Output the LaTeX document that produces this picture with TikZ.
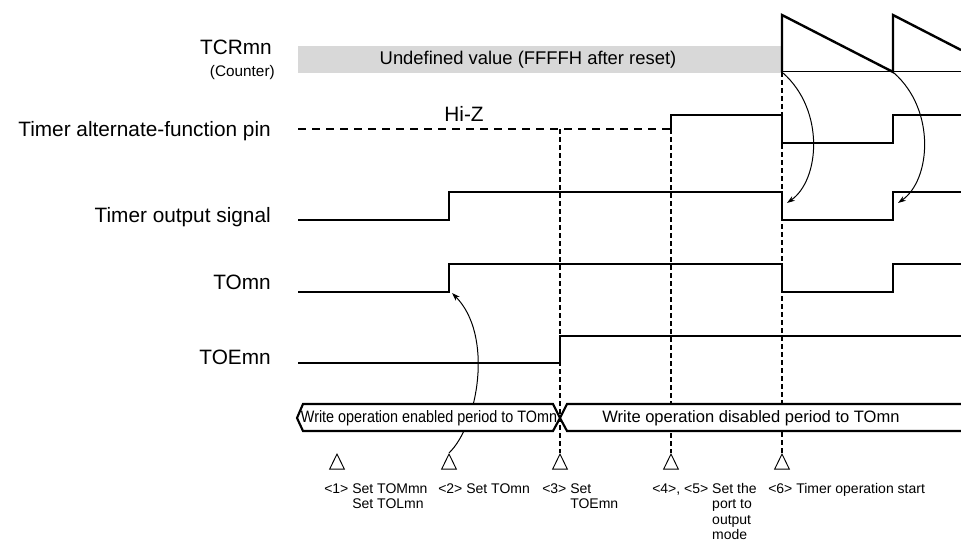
\documentclass[tikz,border=0pt]{standalone}
\usepackage{fontspec}
\setmainfont{Liberation Sans}
\usetikzlibrary{shapes.geometric,arrows.meta}
\definecolor{bandgray}{RGB}{216,216,216}

\begin{document}
\begin{tikzpicture}[
    x=0.75pt, y=-0.75pt,
    siglabel/.style={anchor=base east, inner sep=0pt, font=\fontsize{15.6}{18}\selectfont},
    wave/.style={line width=1.8pt, line join=miter},
    hiz/.style={line width=1.8pt, dash pattern=on 6pt off 4.5pt},
    guide/.style={line width=0.8pt, dash pattern=on 3.5pt off 2.5pt},
    busline/.style={line width=1.6pt, line join=miter},
    marker/.style={draw, line width=0.7pt, isosceles triangle, isosceles triangle apex angle=52, shape border rotate=90, minimum width=11pt, minimum height=11pt, inner sep=0pt, anchor=apex},
    steplabel/.style={anchor=north west, inner sep=0pt, align=left, font=\fontsize{10.5}{11.6}\selectfont},
    trig/.style={-{Stealth[length=6pt,width=4pt]}, line width=0.75pt}
]
\useasboundingbox (0,0) rectangle (961,542);

% Signal names
\node[siglabel] (tcr) at (272,55) {TCRmn};
\node[siglabel, font=\fontsize{11.5}{13}\selectfont] (counter) at (275,77) {(Counter)};
\node[siglabel] (pin) at (271,137) {Timer alternate-function pin};
\node[siglabel] (tout) at (271,222) {Timer output signal};
\node[siglabel] (tomn) at (271,289) {TOmn};
\node[siglabel] (toemn) at (271,364) {TOEmn};

% TCRmn counter
\fill[bandgray] (298,46) rectangle (782,73);
\node[font=\fontsize{13.8}{16}\selectfont] (undef) at (528,60) {Undefined value (FFFFH after reset)};
\draw[line width=0.75pt] (782,72) -- (961,72);
\draw[wave] (782,72) -- (782,15) -- (893,72) -- (893,15) -- (961,50);

% Timer alternate-function pin
\draw[hiz] (298,129) -- (671,129);
\draw[wave] (671,129) -- (671,115) -- (782,115) -- (782,143) -- (893,143) -- (893,115) -- (961,115);
\node[font=\fontsize{15.6}{18}\selectfont] (hiz) at (464,114) {Hi-Z};

% Timer output signal
\draw[wave] (298,220) -- (449,220) -- (449,192) -- (782,192) -- (782,220) -- (893,220) -- (893,192) -- (961,192);

% TOmn
\draw[wave] (298,292) -- (449,292) -- (449,264) -- (782,264) -- (782,292) -- (893,292) -- (893,264) -- (961,264);

% TOEmn
\draw[wave] (298,363) -- (560,363) -- (560,336) -- (961,336);

% Trigger points
\coordinate (g3) at (560,129);
\coordinate (g4) at (671,129);
\coordinate (g6) at (782,72);
\coordinate (c1) at (783,73);
\coordinate (c2) at (894,73);
\coordinate (o1) at (787,203);
\coordinate (o2) at (898,203);
\coordinate (torise) at (452,293);

% Markers
\node[marker] (tri1) at (337,453) {};
\node[marker] (tri2) at (449,453) {};
\node[marker] (tri3) at (560,453) {};
\node[marker] (tri4) at (671,453) {};
\node[marker] (tri6) at (782,453) {};

% Guides
\draw[guide] (g3) -- (tri3.apex);
\draw[guide] (g4) -- (tri4.apex);
\draw[guide] (g6) -- (tri6.apex);

% Arrows
\draw[trig] (tri2.apex) .. controls (478,425) and (494,335) .. (torise);
\draw[trig] (c1) .. controls (825,110) and (820,180) .. (o1);
\draw[trig] (c2) .. controls (936,110) and (931,180) .. (o2);

% Write period bus
\draw[busline, fill=white] (297,418) -- (303,404) -- (553,404) -- (560,418) -- (553,431) -- (303,431) -- cycle;
\fill[white] (560,418) -- (567,404) -- (961,404) -- (961,431) -- (567,431) -- cycle;
\draw[busline] (961,404) -- (567,404) -- (560,418) -- (567,431) -- (961,431);
\node[font=\fontsize{12.4}{14}\selectfont] (enabled) at (429,418) {\scalebox{0.87}[1]{Write operation enabled period to TOmn}};
\node[font=\fontsize{12.4}{14}\selectfont] (disabled) at (751,418) {Write operation disabled period to TOmn};

% Step texts
\node[steplabel] (s1) at (324,483) {<1> Set TOMmn\\\hphantom{<1> }Set TOLmn};
\node[steplabel] (s2) at (438,483) {<2> Set TOmn};
\node[steplabel] (s3) at (542,483) {<3> Set\\\hphantom{<3> }TOEmn};
\node[steplabel] (s4) at (652,483) {<4>, <5> Set the\\\hphantom{<4>, <5> }port to\\\hphantom{<4>, <5> }output\\\hphantom{<4>, <5> }mode};
\node[steplabel] (s6) at (768,483) {<6> Timer operation start};

\end{tikzpicture}
\end{document}
